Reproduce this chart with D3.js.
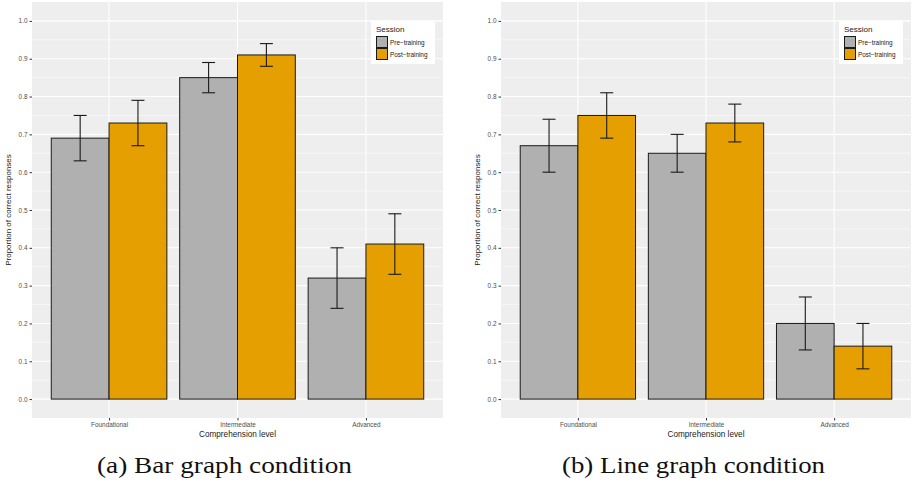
<!DOCTYPE html>
<html>
<head>
<meta charset="utf-8">
<script src="https://cdn.jsdelivr.net/npm/d3@7"></script>
<style>
  body { margin: 0; background: #fff; }
  svg { display: block; }
</style>
</head>
<body>
<div id="chart"></div>
<script>
// values
var categories = ['Foundational', 'Intermediate', 'Advanced'];
var sessions = ['Pre\u2212training', 'Post\u2212training'];
var yTicks = [0, 0.1, 0.2, 0.3, 0.4, 0.5, 0.6, 0.7, 0.8, 0.9, 1.0];

var barPre    = [0.69, 0.85, 0.32];
var barPreLo  = [0.63, 0.81, 0.24];
var barPreHi  = [0.75, 0.89, 0.40];
var barPost   = [0.73, 0.91, 0.41];
var barPostLo = [0.67, 0.88, 0.33];
var barPostHi = [0.79, 0.94, 0.49];

var linePre    = [0.67, 0.65, 0.20];
var linePreLo  = [0.60, 0.60, 0.13];
var linePreHi  = [0.74, 0.70, 0.27];
var linePost   = [0.75, 0.73, 0.14];
var linePostLo = [0.69, 0.68, 0.08];
var linePostHi = [0.81, 0.78, 0.20];

var captions = ['(a) Bar graph condition', '(b) Line graph condition'];

var colors = ['#B0B0B0', '#E69F00'];

function rows(pre, preLo, preHi, post, postLo, postHi) {
    var out = [];
    categories.forEach(function (c, i) {
        out.push({ cat: c, s: 0, v: pre[i], lo: preLo[i], hi: preHi[i] });
        out.push({ cat: c, s: 1, v: post[i], lo: postLo[i], hi: postHi[i] });
    });
    return out;
}

var sans = 'Liberation Sans, Arial, sans-serif';

var svg = d3.select('#chart').append('svg')
    .attr('width', 912)
    .attr('height', 484);

function panel(left, right, data, caption) {
    var top = 2, bottom = 418;
    var g = svg.append('g');

    // discrete axis with ggplot's 0.6 expansion each side
    var x = d3.scaleLinear().domain([0.4, 3.6]).range([left, right]);
    var y = d3.scaleLinear().domain([-0.05, 1.05]).range([bottom, top]);

    g.append('rect')
        .attr('x', left).attr('y', top)
        .attr('width', right - left).attr('height', bottom - top)
        .attr('fill', '#EEEEEE');

    // minor grid
    var minor = d3.range(0.05, 1.05, 0.1);
    g.selectAll('.minor').data(minor).enter().append('line')
        .attr('x1', left).attr('x2', right)
        .attr('y1', function (d) { return y(d); })
        .attr('y2', function (d) { return y(d); })
        .attr('stroke', '#fff').attr('stroke-width', 0.5);
    g.selectAll('.major').data(yTicks).enter().append('line')
        .attr('x1', left).attr('x2', right)
        .attr('y1', function (d) { return y(d); })
        .attr('y2', function (d) { return y(d); })
        .attr('stroke', '#fff').attr('stroke-width', 1.1);
    g.selectAll('.vmajor').data(categories).enter().append('line')
        .attr('x1', function (d, i) { return x(i + 1); })
        .attr('x2', function (d, i) { return x(i + 1); })
        .attr('y1', top).attr('y2', bottom)
        .attr('stroke', '#fff').attr('stroke-width', 1.1);

    var bw = 0.45;
    function bx(d) { return categories.indexOf(d.cat) + 1 - 0.45 + d.s * bw; }

    g.selectAll('.bar').data(data).enter().append('rect')
        .attr('x', function (d) { return x(bx(d)); })
        .attr('y', function (d) { return y(d.v); })
        .attr('width', x(bw) - x(0))
        .attr('height', function (d) { return y(0) - y(d.v); })
        .attr('fill', function (d) { return colors[d.s]; })
        .attr('stroke', '#1a1a1a').attr('stroke-width', 1);

    var eh = 6.5;
    data.forEach(function (d) {
        var cx = x(bx(d) + bw / 2);
        g.append('line').attr('x1', cx).attr('x2', cx)
            .attr('y1', y(d.lo)).attr('y2', y(d.hi))
            .attr('stroke', '#1a1a1a').attr('stroke-width', 1.1);
        [d.lo, d.hi].forEach(function (v) {
            g.append('line').attr('x1', cx - eh).attr('x2', cx + eh)
                .attr('y1', y(v)).attr('y2', y(v))
                .attr('stroke', '#1a1a1a').attr('stroke-width', 1.1);
        });
    });

    // y axis
    var yAxis = d3.axisLeft(y).tickValues(yTicks).tickSize(2.5).tickPadding(2)
        .tickFormat(d3.format('.1f'));
    var ya = g.append('g').attr('transform', 'translate(' + left + ',0)').call(yAxis);
    ya.select('.domain').remove();
    ya.selectAll('line').attr('stroke', '#333');
    ya.selectAll('text').attr('fill', '#4D4D4D')
        .style('font-family', sans).style('font-size', '6.4px');

    // x axis
    var xAxis = d3.axisBottom(x).tickValues([1, 2, 3]).tickSize(2.5).tickPadding(2)
        .tickFormat(function (d) { return categories[d - 1]; });
    var xa = g.append('g').attr('transform', 'translate(0,' + bottom + ')').call(xAxis);
    xa.select('.domain').remove();
    xa.selectAll('line').attr('stroke', '#333');
    xa.selectAll('text').attr('fill', '#4D4D4D')
        .style('font-family', sans).style('font-size', '6.4px');

    g.append('text')
        .attr('x', (left + right) / 2).attr('y', 437)
        .attr('text-anchor', 'middle')
        .attr('fill', '#222')
        .style('font-family', sans).style('font-size', '8.2px')
        .text('Comprehension level');

    g.append('text')
        .attr('transform', 'translate(' + (left - 21.5) + ',' + ((top + bottom) / 2) + ') rotate(-90)')
        .attr('text-anchor', 'middle')
        .attr('fill', '#222')
        .style('font-family', sans).style('font-size', '8px')
        .text('Proportion of correct responses');

    // legend
    var lx = right - 72, ly = 21;
    var leg = g.append('g').attr('transform', 'translate(' + lx + ',' + ly + ')');
    leg.append('rect').attr('width', 64).attr('height', 43).attr('fill', '#fff');
    leg.append('text').attr('x', 5).attr('y', 11)
        .attr('fill', '#222')
        .style('font-family', sans).style('font-size', '8px')
        .text('Session');
    sessions.forEach(function (s, i) {
        leg.append('rect').attr('x', 5.5).attr('y', 15.5 + i * 12)
            .attr('width', 11).attr('height', 11)
            .attr('fill', colors[i]).attr('stroke', '#1a1a1a').attr('stroke-width', 1);
        leg.append('text').attr('x', 19).attr('y', 23.5 + i * 12)
            .attr('fill', '#222')
            .style('font-family', sans).style('font-size', '6.4px')
            .text(s);
    });

    // caption, stretched to the width of the LaTeX original
    svg.append('text')
        .attr('x', caption.cx).attr('y', 472.5)
        .attr('text-anchor', 'middle')
        .attr('textLength', caption.w)
        .attr('lengthAdjust', 'spacingAndGlyphs')
        .attr('fill', '#111')
        .style('font-family', 'Liberation Serif, DejaVu Serif, serif').style('font-size', '23px')
        .text(caption.text);
}

panel(32, 443, rows(barPre, barPreLo, barPreHi, barPost, barPostLo, barPostHi),
      { text: captions[0], cx: 224.5, w: 255 });
panel(501, 911, rows(linePre, linePreLo, linePreHi, linePost, linePostLo, linePostHi),
      { text: captions[1], cx: 693.5, w: 263 });
</script>
</body>
</html>
